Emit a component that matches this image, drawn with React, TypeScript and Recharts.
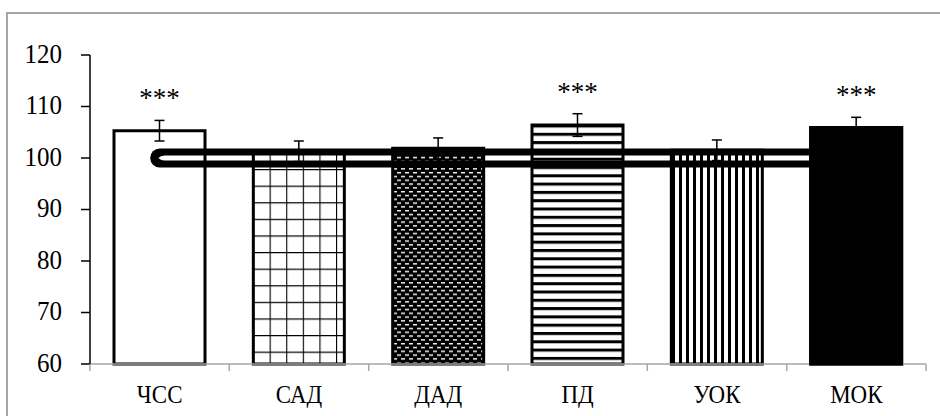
import React from 'react';
import { ComposedChart, Bar, Line, XAxis, YAxis, ErrorBar, Cell, LabelList } from 'recharts';

// показатели, % от исходного уровня
const categories = ['ЧСС', 'САД', 'ДАД', 'ПД', 'УОК', 'МОК'];
const values = [105.3, 101.3, 101.9, 106.4, 101.5, 105.9];
const errors = [2.0, 2.0, 2.0, 2.2, 2.0, 2.0];
const marks = ['***', '', '', '***', '', '***'];
const baseline = [100, 100, 100, 100, 100, 100];
const yTicks = [60, 70, 80, 90, 100, 110, 120];
const fills = ['#ffffff', 'url(#grid)', 'url(#dots)', 'url(#hstripe)', 'url(#vstripe)', '#000000'];

const data = categories.map((name, i) => ({
  name,
  value: values[i],
  err: errors[i],
  mark: marks[i],
  base: baseline[i],
  // the last bar sits above the 100% line
  cover: i === categories.length - 1 ? values[i] : null,
}));

const FONT = 'Liberation Serif, Tinos, DejaVu Serif, serif';
const FRAME = '#a6a6a6';

if (typeof document !== 'undefined') {
  document.body.style.margin = '0';
}

const XTick = (props: any) => {
  const { x, y, payload, index } = props;
  const half = payload && payload.offset ? payload.offset : 69.7;
  const last = index === categories.length - 1;
  return (
    <g>
      <line x1={x - half} x2={x - half} y1={y} y2={y + 7} stroke={FRAME} strokeWidth={1.5} />
      {last && <line x1={x + half} x2={x + half} y1={y} y2={y + 7} stroke={FRAME} strokeWidth={1.5} />}
      <text
        x={x}
        y={y + 39}
        textAnchor="middle"
        style={{ fontFamily: FONT, fontSize: 23 }}
        transform={`translate(0 ${(y + 39) * -0.12}) scale(1 1.12)`}
        fill="#000"
      >
        {payload.value}
      </text>
    </g>
  );
};

const YTick = (props: any) => {
  const { x, y, payload } = props;
  return (
    <text
      x={x}
      y={y + 8}
      textAnchor="end"
      style={{ fontFamily: FONT, fontSize: 25 }}
      transform={`translate(0 ${(y + 8) * -0.1}) scale(1 1.1)`}
      fill="#000"
    >
      {payload.value}
    </text>
  );
};

const Stars = (props: any) => {
  const { x, y, width, value } = props;
  if (!value) return null;
  return (
    <text x={x + width / 2} y={y - 24} textAnchor="middle" style={{ fontFamily: FONT, fontSize: 27 }} fill="#000">
      {value}
    </text>
  );
};

export default function App() {
  return (
    <div style={{ width: 940, height: 416, background: '#fff', fontFamily: FONT }}>
      <ComposedChart width={940} height={416} data={data} margin={{ top: 55, right: 14, bottom: 0, left: 0 }}>
        <defs>
          <pattern id="grid" patternUnits="userSpaceOnUse" width={16.6} height={16.6} x={4} y={3}>
            <rect width={16.6} height={16.6} fill="#fff" />
            <path d="M0 0 V16.6 M0 0 H16.6" stroke="#000" strokeWidth={2.2} />
          </pattern>
          <pattern id="dots" patternUnits="userSpaceOnUse" width={8} height={7.6}>
            <rect width={8} height={7.6} fill="#000" />
            <rect x={1} y={1} width={4} height={1.4} fill="#fff" />
            <rect x={5} y={4.8} width={3} height={1.4} fill="#fff" />
            <rect x={0} y={4.8} width={1} height={1.4} fill="#fff" />
          </pattern>
          <pattern id="hstripe" patternUnits="userSpaceOnUse" width={10} height={8.3}>
            <rect width={10} height={8.3} fill="#fff" />
            <rect width={10} height={3} fill="#000" />
          </pattern>
          <pattern id="vstripe" patternUnits="userSpaceOnUse" width={7} height={10}>
            <rect width={7} height={10} fill="#fff" />
            <rect width={3} height={10} fill="#000" />
          </pattern>
          <filter id="hollow" filterUnits="userSpaceOnUse" x={0} y={0} width={940} height={416}>
            <feMorphology in="SourceGraphic" operator="erode" radius="5 6.5" result="inner" />
            <feComposite in="SourceGraphic" in2="inner" operator="out" />
          </filter>
        </defs>
        {/* chart-area frame, only top and left edges are in view */}
        <path d="M7 416 V13 H940" fill="none" stroke={FRAME} strokeWidth={2} />
        <XAxis
          xAxisId="main"
          dataKey="name"
          height={52}
          axisLine={{ stroke: FRAME, strokeWidth: 1.5 }}
          tickLine={false}
          tickSize={0}
          tickMargin={0}
          interval={0}
          tick={<XTick />}
        />
        <XAxis xAxisId="over" dataKey="name" hide />
        <YAxis
          domain={[60, 120]}
          ticks={yTicks}
          interval={0}
          width={90}
          axisLine={{ stroke: '#000', strokeWidth: 1.5 }}
          tickLine={{ stroke: '#000', strokeWidth: 1.5 }}
          tickSize={9}
          tickMargin={19}
          tick={<YTick />}
        />
        <Bar xAxisId="main" dataKey="value" barSize={91} stroke="#000" strokeWidth={3} isAnimationActive={false}>
          {data.map((d, i) => (
            <Cell key={d.name} fill={fills[i]} />
          ))}
          <ErrorBar dataKey="err" width={5} stroke="#000" strokeWidth={1.5} direction="y" />
          <LabelList dataKey="mark" content={<Stars />} />
        </Bar>
        <Line
          xAxisId="main"
          dataKey="base"
          stroke="#000"
          strokeWidth={19}
          strokeLinecap="round"
          filter="url(#hollow)"
          dot={false}
          activeDot={false}
          isAnimationActive={false}
        />
        <Bar
          xAxisId="over"
          dataKey="cover"
          barSize={91}
          fill="#000"
          stroke="#000"
          strokeWidth={3}
          zIndex={500}
          isAnimationActive={false}
        />
      </ComposedChart>
    </div>
  );
}
